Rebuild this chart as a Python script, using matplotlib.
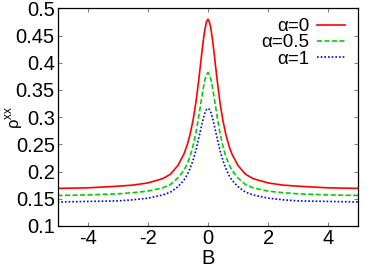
import numpy as np
import matplotlib
matplotlib.use("Agg")
import matplotlib.pyplot as plt

# B values (field)
B = [-5.0, -4.0, -3.0, -2.5, -2.0, -1.5, -1.25, -1.0, -0.8, -0.7, -0.6, -0.5,
     -0.4, -0.3, -0.2, -0.15, -0.1, -0.05, 0.0,
     0.05, 0.1, 0.15, 0.2, 0.3, 0.4, 0.5, 0.6, 0.7, 0.8, 1.0, 1.25, 1.5,
     2.0, 2.5, 3.0, 4.0, 5.0]

rho_a0 = [0.169, 0.170, 0.173, 0.175, 0.179, 0.187, 0.195, 0.211, 0.232, 0.247,
          0.267, 0.293, 0.327, 0.371, 0.420, 0.443, 0.462, 0.475, 0.480,
          0.475, 0.462, 0.443, 0.420, 0.371, 0.327, 0.293, 0.267, 0.247, 0.232,
          0.211, 0.195, 0.187, 0.179, 0.175, 0.173, 0.170, 0.169]

rho_a05 = [0.156, 0.157, 0.159, 0.161, 0.164, 0.170, 0.176, 0.188, 0.202, 0.213,
           0.227, 0.246, 0.271, 0.303, 0.338, 0.355, 0.369, 0.378, 0.382,
           0.378, 0.369, 0.355, 0.338, 0.303, 0.271, 0.246, 0.227, 0.213, 0.202,
           0.188, 0.176, 0.170, 0.164, 0.161, 0.159, 0.157, 0.156]

rho_a1 = [0.144, 0.145, 0.146, 0.148, 0.151, 0.157, 0.162, 0.172, 0.184, 0.193,
          0.205, 0.220, 0.239, 0.263, 0.287, 0.299, 0.308, 0.314, 0.316,
          0.314, 0.308, 0.299, 0.287, 0.263, 0.239, 0.220, 0.205, 0.193, 0.184,
          0.172, 0.162, 0.157, 0.151, 0.148, 0.146, 0.145, 0.144]

labels = ["\u03b1=0", "\u03b1=0.5", "\u03b1=1"]
xticks = [-4, -2, 0, 2, 4]
yticks = [0.1, 0.15, 0.2, 0.25, 0.3, 0.35, 0.4, 0.45, 0.5]

plt.rcParams["font.family"] = ["Liberation Sans", "DejaVu Sans"]
plt.rcParams["mathtext.fontset"] = "custom"
plt.rcParams["mathtext.rm"] = "Liberation Sans"
FS = 14.5

fig = plt.figure(figsize=(3.74, 2.68), dpi=100)
ax = fig.add_axes([0.154, 0.157, 0.804, 0.812])

ax.plot(B, rho_a0, color="#ff0000", lw=1.2, label=labels[0])
ax.plot(B, rho_a05, color="#00d000", lw=1.2, dashes=(3, 1.5), label=labels[1])
ax.plot(B, rho_a1, color="#0000ff", lw=1.2, dashes=(1, 1.2), label=labels[2])

ax.set_xlim(-5, 5)
ax.set_ylim(0.1, 0.5)
ax.set_xticks(xticks)
ax.set_xticklabels([str(t) for t in xticks])
ax.set_yticks(yticks)
ax.set_yticklabels([f"{t:g}" for t in yticks])
ax.tick_params(direction="in", length=3, width=0.8, color="#808080",
               top=True, right=True, labelsize=FS, pad=2)
for s in ax.spines.values():
    s.set_linewidth(0.9)

ax.set_xlabel("B", fontsize=FS, labelpad=1)
ax.set_ylabel(r"$\mathrm{\rho}^{\mathrm{xx}}$", fontsize=12)
ax.yaxis.set_label_coords(-0.108, 0.5)

ax.legend(loc="upper right", bbox_to_anchor=(0.955, 0.955), markerfirst=False,
          frameon=False, fontsize=13.5, handlelength=1.5, handletextpad=0.4,
          labelspacing=-0.05, borderaxespad=0.0, borderpad=0.0)

fig.savefig("out.png", dpi=100)
